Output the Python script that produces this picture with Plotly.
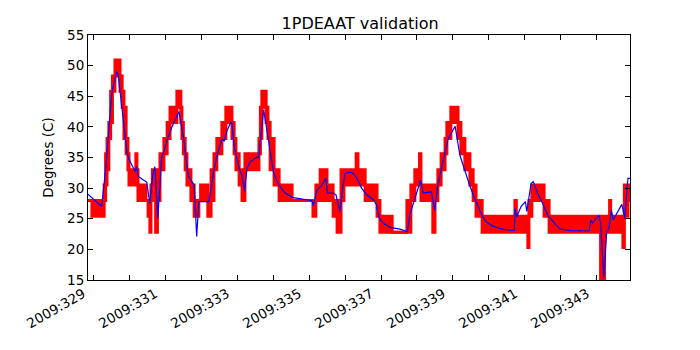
import plotly.graph_objects as go

# day of year 2009 -> telemetry band (quantised sensor toggling between levels)
red_t = [328.86, 328.97, 329.31, 329.35, 329.39, 329.44, 329.49, 329.54, 329.61, 329.75,
         329.81, 329.86, 329.92, 329.97, 330.00, 330.19, 330.22, 330.25, 330.47, 330.53,
         330.58, 330.61, 330.65, 330.74, 330.79, 330.86, 330.97, 331.06, 331.14, 331.33,
         331.44, 331.47, 331.51, 331.56, 331.61, 331.72, 331.81, 331.94, 331.99, 332.19,
         332.28, 332.36, 332.44, 332.58, 332.69, 332.86, 332.92, 332.97, 333.06, 333.14,
         333.22, 333.61, 333.65, 333.69, 333.81, 333.86, 333.92, 334.03, 334.17, 334.53,
         335.11, 335.19, 335.31, 335.50, 335.67, 335.78, 335.89, 335.97, 336.31, 336.36,
         336.56, 336.89, 336.97, 337.31, 337.72, 337.83, 337.94, 338.07, 338.11, 338.44,
         338.50, 338.58, 338.67, 338.78, 338.83, 338.94, 339.14, 339.22, 339.33, 339.47,
         339.56, 339.64, 339.81, 340.72, 340.76, 341.08, 341.11, 341.19, 341.53, 341.67,
         343.10, 343.21, 343.35, 343.38, 343.72, 343.76, 343.86, 343.94]
red_lo = [28.0, 25.4, 28.0, 30.5, 33.0, 38.1, 40.7, 45.8, 48.3, 45.8,
          43.2, 38.1, 35.6, 33.0, 30.5, 30.5, 30.5, 28.0, 28.0, 25.4,
          22.8, 28.0, 30.5, 22.8, 28.0, 33.0, 35.6, 38.1, 40.7, 43.2,
          40.7, 38.1, 35.6, 33.0, 30.5, 28.0, 25.4, 28.0, 28.0, 25.4,
          28.0, 33.0, 35.6, 38.1, 40.7, 38.1, 35.6, 33.0, 30.5, 28.0,
          33.0, 35.6, 38.1, 43.2, 40.7, 38.1, 33.0, 30.5, 28.0, 28.0,
          25.4, 28.0, 28.0, 28.0, 25.4, 22.8, 28.0, 30.5, 30.5, 30.5,
          28.0, 25.4, 22.8, 22.8, 22.8, 28.0, 30.5, 30.5, 28.0, 22.8,
          28.0, 30.5, 33.0, 35.6, 38.1, 40.7, 38.1, 35.6, 33.0, 30.5,
          28.0, 25.4, 22.8, 22.8, 22.8, 20.3, 25.4, 28.0, 25.4, 22.8,
          15.2, 22.8, 22.8, 22.8, 20.3, 25.4, 28.0, 28.0]
red_hi = [28.0, 28.0, 30.5, 35.6, 38.1, 40.7, 45.8, 48.3, 50.9, 48.3,
          45.8, 43.2, 38.1, 35.6, 33.0, 35.6, 33.0, 30.5, 28.0, 28.0,
          28.0, 30.5, 33.0, 28.0, 33.0, 35.6, 38.1, 40.7, 43.2, 45.8,
          43.2, 40.7, 38.1, 35.6, 33.0, 30.5, 28.0, 28.0, 30.5, 28.0,
          33.0, 35.6, 38.1, 40.7, 43.2, 40.7, 38.1, 35.6, 33.0, 33.0,
          35.6, 38.1, 43.2, 45.8, 43.2, 40.7, 38.1, 33.0, 30.5, 28.0,
          28.0, 30.5, 33.0, 30.5, 28.0, 28.0, 33.0, 33.0, 35.6, 33.0,
          30.5, 28.0, 25.4, 22.8, 28.0, 30.5, 33.0, 35.6, 30.5, 28.0,
          30.5, 33.0, 35.6, 38.1, 40.7, 43.2, 40.7, 38.1, 35.6, 33.0,
          30.5, 28.0, 25.4, 28.0, 25.4, 25.4, 28.0, 30.5, 28.0, 25.4,
          25.4, 25.4, 28.0, 25.4, 25.4, 30.5, 30.5, 30.5]

# model prediction
model_t = [328.86, 329.24, 329.35, 329.44, 329.52, 329.66, 329.70, 329.80, 329.94, 330.01,
           330.17, 330.21, 330.26, 330.38, 330.49, 330.58, 330.66, 330.72, 330.80, 330.91,
           330.97, 331.09, 331.18, 331.39, 331.54, 331.62, 331.67, 331.72, 331.81, 331.88,
           331.94, 332.22, 332.36, 332.45, 332.55, 332.59, 332.64, 332.73, 332.83, 332.86,
           332.92, 333.06, 333.14, 333.21, 333.28, 333.37, 333.56, 333.60, 333.74, 333.83,
           333.93, 334.02, 334.16, 334.34, 334.53, 334.81, 335.08, 335.12, 335.22, 335.36,
           335.42, 335.47, 335.51, 335.67, 335.75, 335.86, 335.94, 336.00, 336.14, 336.23,
           336.33, 336.46, 336.60, 336.79, 336.88, 336.95, 337.06, 337.25, 337.53, 337.73,
           337.80, 337.94, 338.05, 338.10, 338.17, 338.40, 338.49, 338.58, 338.72, 338.86,
           339.00, 339.06, 339.19, 339.33, 339.46, 339.60, 339.73, 339.83, 339.92, 340.10,
           340.38, 340.70, 340.73, 340.77, 340.89, 341.01, 341.05, 341.17, 341.23, 341.35,
           341.49, 341.63, 341.86, 341.99, 342.27, 342.78, 342.83, 342.87, 343.06, 343.10,
           343.19, 343.24, 343.27, 343.33, 343.40, 343.45, 343.61, 343.69, 343.77, 343.86,
           343.94]
model_v = [29.0, 27.0, 33.0, 40.0, 45.5, 49.0, 48.5, 43.3, 35.9, 34.6,
           32.7, 33.5, 31.9, 31.4, 31.0, 27.5, 32.2, 33.5, 25.1, 35.1,
           36.0, 38.4, 39.8, 42.5, 37.3, 33.0, 31.6, 31.3, 30.5, 22.1,
           27.8, 27.8, 33.0, 35.4, 37.3, 38.1, 37.6, 39.5, 40.8, 40.6,
           36.8, 33.2, 32.0, 29.5, 33.3, 34.3, 35.1, 34.9, 42.8, 39.5,
           35.7, 32.4, 30.5, 29.2, 28.5, 28.2, 27.95, 27.2, 29.7, 30.5,
           31.05, 31.6, 29.2, 29.2, 28.9, 26.2, 30.2, 32.4, 32.6, 32.4,
           31.6, 30.0, 28.9, 28.1, 27.2, 25.1, 24.3, 23.6, 23.3, 22.9,
           25.6, 28.3, 30.2, 31.3, 29.2, 29.4, 26.4, 30.5, 34.3, 37.9,
           39.5, 40.1, 35.4, 32.7, 30.5, 28.3, 26.7, 25.3, 24.5, 23.8,
           23.3, 23.05, 26.7, 25.3, 27.0, 27.8, 26.2, 30.8, 31.05, 29.2,
           27.5, 25.6, 24.0, 23.3, 23.05, 23.0, 24.8, 24.3, 25.6, 24.3,
           15.3, 19.9, 22.9, 23.4, 26.4, 24.8, 26.4, 27.35, 25.1, 31.6,
           31.6]

tick_days = [329, 331, 333, 335, 337, 339, 341, 343]
tick_labels = ["2009:329", "2009:331", "2009:333", "2009:335",
               "2009:337", "2009:339", "2009:341", "2009:343"]

fig = go.Figure()

# telemetry: band between toggling levels
fig.add_trace(go.Scatter(
    x=red_t, y=red_lo, mode='lines', line_shape='hv',
    line=dict(color='#ff0000', width=3), showlegend=False, hoverinfo='skip'
))
fig.add_trace(go.Scatter(
    x=red_t, y=red_hi, mode='lines', line_shape='hv',
    line=dict(color='#ff0000', width=3), fill='tonexty', fillcolor='#ff0000',
    showlegend=False
))
# model
fig.add_trace(go.Scatter(
    x=model_t, y=model_v, mode='lines',
    line=dict(color='#0000ff', width=1.2), showlegend=False
))

axis_common = dict(
    showline=True, linecolor='black', linewidth=1, mirror='ticks',
    ticks='inside', ticklen=5, tickcolor='black', showgrid=False, zeroline=False,
    automargin=False,
    tickfont=dict(family='DejaVu Sans', size=13.5, color='black'),
)

# the page body adds an 8px offset, margins are compensated for it
fig.update_layout(
    width=700, height=350,
    margin=dict(l=80, r=78, t=27, b=78),
    paper_bgcolor='white', plot_bgcolor='white',
    title=dict(text='1PDEAAT validation', x=0.503, xanchor='center', y=0.955, yanchor='middle',
               automargin=False,
               font=dict(family='DejaVu Sans', size=16, color='black')),
    xaxis=dict(range=[328.861, 343.917], tickvals=tick_days, ticktext=tick_labels,
               tickangle=-30, ticklabelshift=-10,
               minor=dict(dtick=1, tick0=329, ticks='inside', ticklen=5, tickcolor='black'),
               **axis_common),
    yaxis=dict(range=[15, 55], dtick=5, tick0=15,
               title=dict(text='Degrees (C)', standoff=10,
                          font=dict(family='DejaVu Sans', size=13.5, color='black')),
               **axis_common),
)

fig.write_html("out.html")
